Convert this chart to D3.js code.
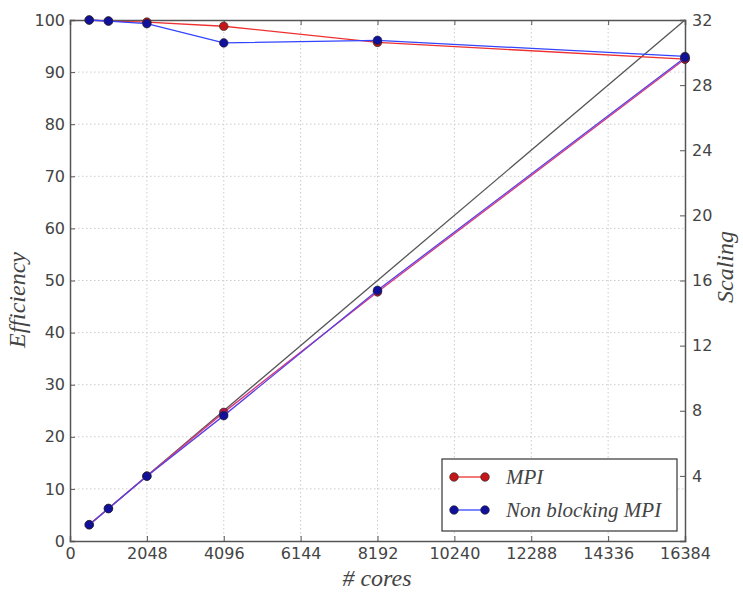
<!DOCTYPE html>
<html><head><meta charset="utf-8">
<script src="https://cdn.jsdelivr.net/npm/d3@7"></script>
<style>body{margin:0;background:#fff}svg{display:block}</style>
</head><body><svg id="c" width="743" height="595"></svg>
<script>
const cores = [512, 1024, 2048, 4096, 8192, 16384];
const effMPI = [100, 99.8, 99.6, 98.8, 95.7, 92.5];
const effNB = [100, 99.8, 99.3, 95.6, 96.1, 93.0];
const scaleMPI = [1, 2.0, 3.99, 7.9, 15.3, 29.6];
const scaleNB = [1, 1.99, 3.98, 7.7, 15.4, 29.7];
const ideal = [[512, 1], [16384, 32]];
const xTicks = [0, 2048, 4096, 6144, 8192, 10240, 12288, 14336, 16384];
const yLeftTicks = [0, 10, 20, 30, 40, 50, 60, 70, 80, 90, 100];
const yRightTicks = [4, 8, 12, 16, 20, 24, 28, 32];
const seriesNames = ["MPI", "Non blocking MPI"];

const svg = d3.select("#c");
const L = 70, R = 685, T = 20, B = 541;
const x = d3.scaleLinear().domain([0, 16384]).range([L, R]);
const yl = d3.scaleLinear().domain([0, 100]).range([B, T]);
const yr = d3.scaleLinear().domain([0, 32]).range([B, T]);

// grid
const g = svg.append("g");
g.selectAll(".vg").data(xTicks.slice(1, -1)).join("line")
  .attr("x1", d => x(d)).attr("x2", d => x(d)).attr("y1", T).attr("y2", B)
  .attr("stroke", "#ccc").attr("stroke-dasharray", "1.5,2.5").attr("stroke-width", 1);
g.selectAll(".hg").data(yLeftTicks.slice(1, -1)).join("line")
  .attr("y1", d => yl(d)).attr("y2", d => yl(d)).attr("x1", L).attr("x2", R)
  .attr("stroke", "#ccc").attr("stroke-dasharray", "1.5,2.5").attr("stroke-width", 1);

// axes
const tickFont = "DejaVu Sans, sans-serif";
const ax = svg.append("g").attr("transform", `translate(0,${B})`)
  .call(d3.axisBottom(x).tickValues(xTicks).tickSize(-5).tickPadding(7).tickFormat(d3.format("d")));
const ayl = svg.append("g").attr("transform", `translate(${L},0)`)
  .call(d3.axisLeft(yl).tickValues(yLeftTicks).tickSize(-5).tickPadding(5));
const ayr = svg.append("g").attr("transform", `translate(${R},0)`)
  .call(d3.axisRight(yr).tickValues(yRightTicks).tickSize(-5).tickPadding(7));
const axTop = svg.append("g").attr("transform", `translate(0,${T})`)
  .call(d3.axisTop(x).tickValues(xTicks).tickSize(-5).tickFormat(""));
[ax, ayl, ayr, axTop].forEach(a => {
  a.select(".domain").attr("stroke", "#555").attr("stroke-width", 1.5);
  a.selectAll(".tick line").attr("stroke", "#555");
  a.selectAll("text").attr("font-family", tickFont).attr("font-size", 16).attr("fill", "#444");
});

// lines
const lineL = d3.line().x(d => x(d[0])).y(d => yl(d[1]));
const lineR = d3.line().x(d => x(d[0])).y(d => yr(d[1]));
const zip = (a, b) => a.map((v, i) => [v, b[i]]);

svg.append("path").datum(ideal).attr("d", lineR).attr("fill", "none")
  .attr("stroke", "#555").attr("stroke-width", 1.3);

function series(data, line, col, mcol) {
  svg.append("path").datum(data).attr("d", line).attr("fill", "none")
    .attr("stroke", col).attr("stroke-width", 1.3);
  svg.selectAll(null).data(data).join("circle")
    .attr("cx", d => x(d[0])).attr("cy", d => line === lineL ? yl(d[1]) : yr(d[1]))
    .attr("r", 4.3).attr("fill", mcol).attr("stroke", "#222").attr("stroke-width", 0.6);
}
series(zip(cores, effMPI), lineL, "#ee3030", "#c41818");
series(zip(cores, scaleMPI), lineR, "#d83a80", "#b01848");
series(zip(cores, effNB), lineL, "#3344ff", "#10109a");
series(zip(cores, scaleNB), lineR, "#5a40e0", "#10109a");

// legend
const lg = svg.append("g");
lg.append("rect").attr("x", 442).attr("y", 459).attr("width", 235).attr("height", 72)
  .attr("fill", "#fff").attr("stroke", "#444").attr("stroke-width", 1.3);
const lcols = [["#ee3030", "#c41818"], ["#3344ff", "#10109a"]];
seriesNames.forEach((n, i) => {
  const yy = 477 + i * 33;
  lg.append("line").attr("x1", 454).attr("x2", 485).attr("y1", yy).attr("y2", yy)
    .attr("stroke", lcols[i][0]).attr("stroke-width", 1.3);
  [454, 485].forEach(cx => lg.append("circle").attr("cx", cx).attr("cy", yy).attr("r", 4.3)
    .attr("fill", lcols[i][1]).attr("stroke", "#222").attr("stroke-width", 0.6));
  lg.append("text").attr("x", 506).attr("y", yy + 7).text(n)
    .attr("font-family", "Liberation Serif, serif").attr("font-style", "italic")
    .attr("font-size", 21).attr("fill", "#444");
});

// axis titles
const titleFont = "Liberation Serif, serif";
svg.append("text").attr("x", 377).attr("y", 586).attr("text-anchor", "middle")
  .attr("font-family", titleFont).attr("font-style", "italic").attr("font-size", 24)
  .attr("fill", "#444").text("# cores");
svg.append("text").attr("transform", "translate(25,300) rotate(-90)").attr("text-anchor", "middle")
  .attr("font-family", titleFont).attr("font-style", "italic").attr("font-size", 24)
  .attr("fill", "#444").text("Efficiency");
svg.append("text").attr("transform", "translate(733,267) rotate(-90)").attr("text-anchor", "middle")
  .attr("font-family", titleFont).attr("font-style", "italic").attr("font-size", 24)
  .attr("fill", "#444").text("Scaling");
</script></body></html>
